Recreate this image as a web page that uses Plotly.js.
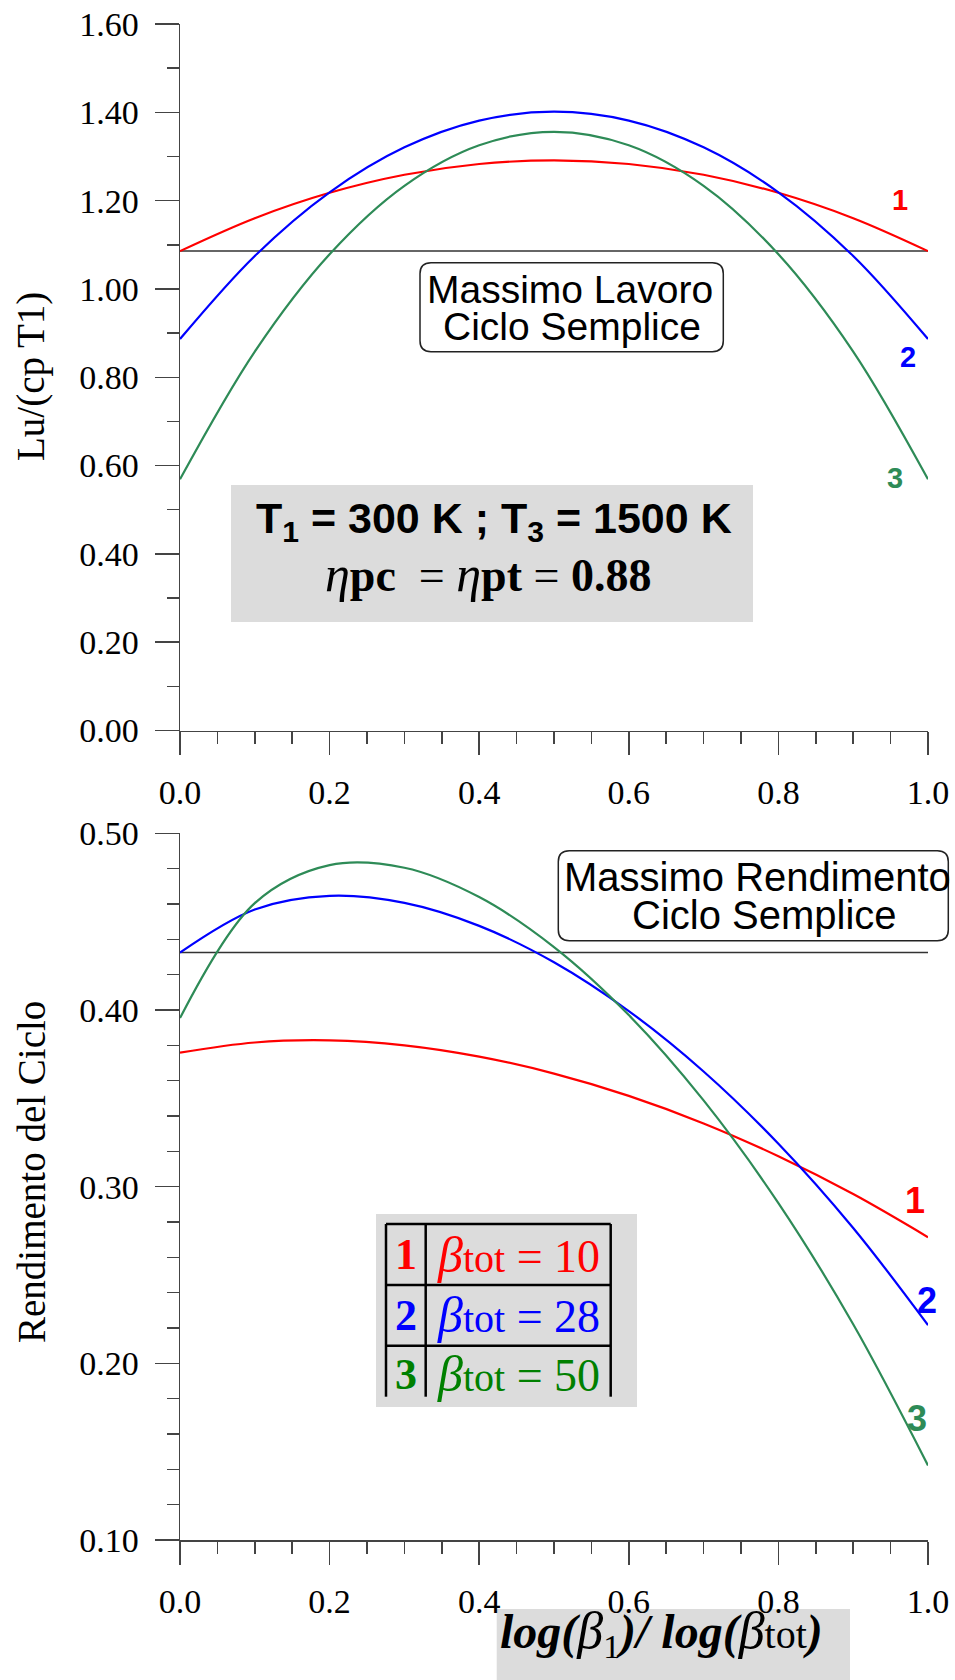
<!DOCTYPE html>
<html>
<head>
<meta charset="utf-8">
<script src="https://cdn.plot.ly/plotly-3.0.1.min.js"></script>
<style>
  html, body { margin: 0; padding: 0; background: #fff; }
  #chart { width: 955px; height: 1680px; }
</style>
</head>
<body>
<div id="chart"></div>
<script>
// Intercooled Brayton cycle: specific work and efficiency versus
// the share of the total pressure ratio taken by the first compressor stage.
const xShare = [0, 0.1, 0.2, 0.3, 0.4, 0.5, 0.6, 0.7, 0.8, 0.9, 1.0];

// Lu/(cp T1)
const workBeta10 = [1.0857, 1.1602, 1.2177, 1.2586, 1.2830, 1.2911, 1.2830, 1.2586, 1.2177, 1.1602, 1.0857];
const workBeta28 = [0.8865, 1.0747, 1.2189, 1.3207, 1.3813, 1.4015, 1.3813, 1.3207, 1.2189, 1.0747, 0.8865];
const workBeta50 = [0.5689, 0.8582, 1.0786, 1.2335, 1.3254, 1.3559, 1.3254, 1.2335, 1.0786, 0.8582, 0.5689];

// Cycle efficiency
const effBeta10 = [0.3759, 0.3816, 0.3828, 0.3800, 0.3736, 0.3640, 0.3514, 0.3358, 0.3172, 0.2958, 0.2714];
const effBeta28 = [0.4325, 0.4569, 0.4646, 0.4606, 0.4476, 0.4270, 0.3994, 0.3652, 0.3243, 0.2766, 0.2216];
const effBeta50 = [0.3954, 0.4605, 0.4820, 0.4805, 0.4639, 0.4356, 0.3971, 0.3488, 0.2907, 0.2221, 0.1422];

// Simple-cycle maxima (reference lines)
const refX = [0, 1];
const maxWorkSimple = [1.0857, 1.0857];
const maxEffSimple = [0.4325, 0.4325];

// Axis ticks
const xTickVals = [0, 0.2, 0.4, 0.6, 0.8, 1.0];
const xTickText = ['0.0', '0.2', '0.4', '0.6', '0.8', '1.0'];
const workTickVals = [0, 0.2, 0.4, 0.6, 0.8, 1.0, 1.2, 1.4, 1.6];
const workTickText = ['0.00', '0.20', '0.40', '0.60', '0.80', '1.00', '1.20', '1.40', '1.60'];
const effTickVals = [0.1, 0.2, 0.3, 0.4, 0.5];
const effTickText = ['0.10', '0.20', '0.30', '0.40', '0.50'];

const seriesNames = ['1', '2', '3'];
const betaTot = ['10', '28', '50'];

const RED = '#ff0000', BLUE = '#0000ff', GREEN = '#2e8b57', LEGEND_GREEN = '#008000';
const AXIS = '#444';
const SERIF = 'Liberation Serif, Times New Roman, serif';
const SANS = 'Liberation Sans, Arial, sans-serif';

// Page geometry (pixels) and helpers to place decorations in paper units
const W = 955, H = 1680, ML = 180, MR = 27, MT = 24, MB = 140;
const PW = W - ML - MR, PH = H - MT - MB;
const px = v => (v - ML) / PW;
const py = v => (H - MB - v) / PH;

function roundBox(x0, y0, x1, y1, r) {
  const p = (x, y) => px(x) + ',' + py(y);
  return 'M' + p(x0 + r, y0) + ' L' + p(x1 - r, y0) + ' Q' + p(x1, y0) + ' ' + p(x1, y0 + r) +
         ' L' + p(x1, y1 - r) + ' Q' + p(x1, y1) + ' ' + p(x1 - r, y1) +
         ' L' + p(x0 + r, y1) + ' Q' + p(x0, y1) + ' ' + p(x0, y1 - r) +
         ' L' + p(x0, y0 + r) + ' Q' + p(x0, y0) + ' ' + p(x0 + r, y0) + ' Z';
}
function roundBoxShape(x0, y0, x1, y1) {
  return { type: 'path', xref: 'paper', yref: 'paper', path: roundBox(x0, y0, x1, y1, 11),
           line: { color: '#222', width: 1.5 }, fillcolor: 'rgba(0,0,0,0)' };
}
function rect(x0, y0, x1, y1, fill) {
  return { type: 'rect', xref: 'paper', yref: 'paper', x0: px(x0), x1: px(x1), y0: py(y1), y1: py(y0),
           fillcolor: fill, line: { width: 0 }, layer: 'below' };
}
function seg(x0, y0, x1, y1) {
  return { type: 'line', xref: 'paper', yref: 'paper', x0: px(x0), x1: px(x1), y0: py(y0), y1: py(y1),
           line: { color: '#000', width: 2.5 } };
}
function label(text, x, y, size, family, color, extra) {
  return Object.assign({ text: text, xref: 'paper', yref: 'paper', x: px(x), y: py(y),
    xanchor: 'center', yanchor: 'middle', showarrow: false,
    font: { family: family, size: size, color: color } }, extra || {});
}

const curve = (x, y, xa, ya, color) => ({
  x: x, y: y, xaxis: xa, yaxis: ya, type: 'scatter', mode: 'lines',
  line: { color: color, width: 2.2, shape: 'spline' }, hoverinfo: 'skip', showlegend: false
});
const refLine = (x, y, xa, ya) => ({
  x: x, y: y, xaxis: xa, yaxis: ya, type: 'scatter', mode: 'lines',
  line: { color: '#333', width: 1.5 }, hoverinfo: 'skip', showlegend: false
});

const data = [
  refLine(refX, maxWorkSimple, 'x2', 'y2'),
  curve(xShare, workBeta10, 'x2', 'y2', RED),
  curve(xShare, workBeta28, 'x2', 'y2', BLUE),
  curve(xShare, workBeta50, 'x2', 'y2', GREEN),
  refLine(refX, maxEffSimple, 'x', 'y'),
  curve(xShare, effBeta10, 'x', 'y', RED),
  curve(xShare, effBeta28, 'x', 'y', BLUE),
  curve(xShare, effBeta50, 'x', 'y', GREEN)
];

const tickFont = { family: SERIF, size: 34, color: '#000' };
function xAxis(anchor) {
  return {
    anchor: anchor, domain: [0, 1], range: [0, 1], showgrid: false, zeroline: false,
    showline: true, linecolor: AXIS, linewidth: 1.5,
    ticks: 'outside', ticklen: 23, tickwidth: 1.5, tickcolor: AXIS,
    tickmode: 'array', tickvals: xTickVals, ticktext: xTickText, tickfont: tickFont,
    ticklabelstandoff: 8,
    minor: { tickmode: 'linear', tick0: 0, dtick: 0.05, ticks: 'outside', ticklen: 12,
             tickwidth: 1.5, tickcolor: AXIS, showgrid: false }
  };
}
function yAxis(anchor, domain, range, vals, text, minorStep) {
  return {
    anchor: anchor, domain: domain, range: range, showgrid: false, zeroline: false,
    showline: true, linecolor: AXIS, linewidth: 1.5,
    ticks: 'outside', ticklen: 24, tickwidth: 1.5, tickcolor: AXIS,
    tickmode: 'array', tickvals: vals, ticktext: text, tickfont: tickFont,
    ticklabelstandoff: 9,
    minor: { tickmode: 'linear', tick0: range[0], dtick: minorStep, ticks: 'outside', ticklen: 12,
             tickwidth: 1.5, tickcolor: AXIS, showgrid: false }
  };
}

const topBottom = py(730.5), lowTop = py(833.3);
const colors = [RED, BLUE, LEGEND_GREEN];
const effSeries = [effBeta10, effBeta28, effBeta50];
const workSeries = [workBeta10, workBeta28, workBeta50];
const lineColors = [RED, BLUE, GREEN];

const annotations = [
  // axis titles
  label('Lu/(cp T1)', 31, 377, 39, SERIF, '#000', { textangle: -90 }),
  label('Rendimento del Ciclo', 31, 1172, 39, SERIF, '#000', { textangle: -90 }),
  label('<b><i>log(</i></b><i><span style="font-size:52px">β</span></i><sub>1</sub>' +
        '<b><i>)/ log(</i></b><i><span style="font-size:52px">β</span></i>' +
        '<span style="font-size:40px">tot</span><b><i>)</i></b>',
        498, 1633, 48, SERIF, '#000', { xanchor: 'left' }),
  // simple-cycle boxes
  label('Massimo Lavoro', 570, 289, 39, SANS, '#000'),
  label('Ciclo Semplice', 572, 327, 39, SANS, '#000'),
  label('Massimo Rendimento', 757, 877, 40, SANS, '#000'),
  label('Ciclo Semplice', 764, 915, 40, SANS, '#000'),
  // operating conditions
  label('<b>T<sub>1</sub> = 300 K ; T<sub>3</sub> = 1500 K</b>', 494, 521, 43, SANS, '#000'),
  label('<i><span style="font-size:50px">η</span></i><b>pc</b>  = <i><span style="font-size:50px">η</span></i>' +
        '<b>pt</b> = <b>0.88</b>', 488, 574, 46, SERIF, '#000')
];

// curve numbers at the right end of each line
const topShift = [[-28, 51], [-20, -18], [-33, 1]];
const lowShift = [[-13, 37], [-1, 25], [-11, 47]];
for (let i = 0; i < 3; i++) {
  const n = xShare.length - 1;
  annotations.push({ text: '<b>' + seriesNames[i] + '</b>', xref: 'x2', yref: 'y2',
    x: xShare[n], y: workSeries[i][n], xshift: topShift[i][0], yshift: topShift[i][1],
    showarrow: false, font: { family: SANS, size: 29, color: lineColors[i] } });
  annotations.push({ text: '<b>' + seriesNames[i] + '</b>', xref: 'x', yref: 'y',
    x: xShare[n], y: effSeries[i][n], xshift: lowShift[i][0], yshift: lowShift[i][1],
    showarrow: false, font: { family: SANS, size: 36, color: lineColors[i] } });
}

// legend table rows
const rowMid = [1254.5, 1315, 1374];
for (let i = 0; i < 3; i++) {
  annotations.push(label('<b>' + seriesNames[i] + '</b>', 406, rowMid[i], 44, SERIF, colors[i]));
  annotations.push(label('<i><span style="font-size:50px">β</span></i><span style="font-size:40px">tot</span> = ' + betaTot[i],
                         518, rowMid[i], 46, SERIF, colors[i]));
}

const shapes = [
  roundBoxShape(420, 262.7, 723.3, 351.7),
  roundBoxShape(558.3, 850.7, 948.3, 940.7),
  rect(231, 485, 753, 622, '#dcdcdc'),
  rect(376, 1214, 637, 1407, '#dcdcdc'),
  rect(496.7, 1609, 850, 1700, '#dcdcdc'),
  seg(386, 1224, 386, 1396.7), seg(425.7, 1224, 425.7, 1396.7), seg(610.7, 1224, 610.7, 1396.7),
  seg(386, 1224, 610.7, 1224), seg(386, 1285, 610.7, 1285), seg(386, 1345.7, 610.7, 1345.7)
];

const layout = {
  width: W, height: H,
  margin: { l: ML, r: MR, t: MT, b: MB },
  paper_bgcolor: '#fff', plot_bgcolor: '#fff',
  showlegend: false,
  xaxis: xAxis('y'),
  xaxis2: xAxis('y2'),
  yaxis: yAxis('x', [0, lowTop], [0.1, 0.5], effTickVals, effTickText, 0.02),
  yaxis2: yAxis('x2', [topBottom, 1], [0, 1.6], workTickVals, workTickText, 0.1),
  annotations: annotations,
  shapes: shapes
};

Plotly.newPlot('chart', data, layout, { staticPlot: true, displayModeBar: false });
</script>
</body>
</html>
